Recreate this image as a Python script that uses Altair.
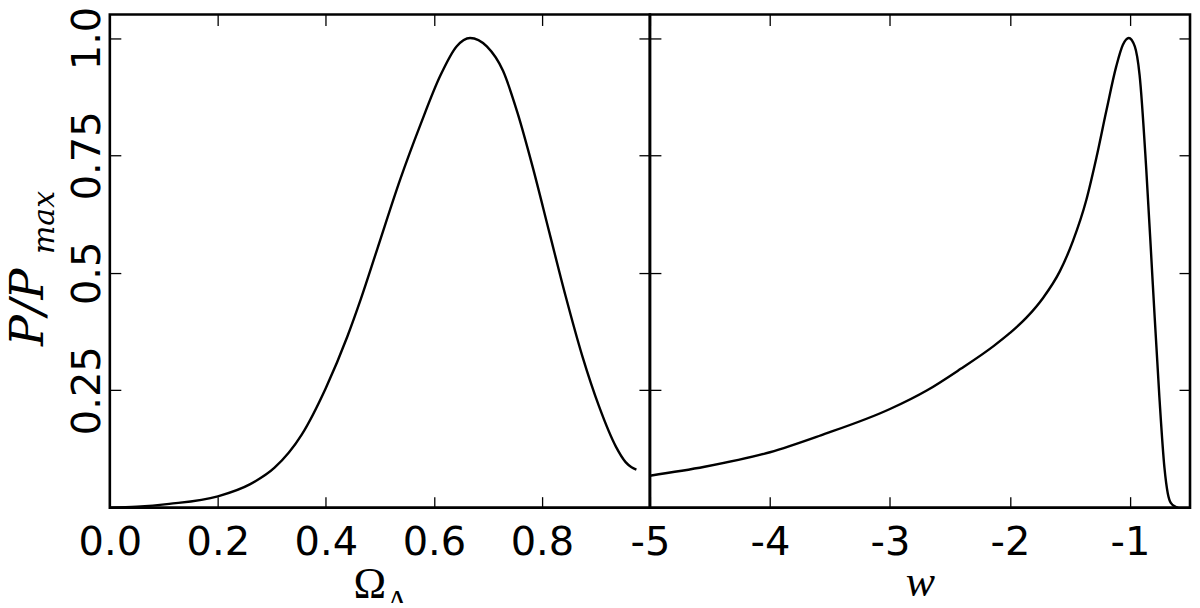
import altair as alt
import pandas as pd

# ---- data ----
omega = [0.0, 0.05, 0.11, 0.2, 0.26, 0.305, 0.355, 0.4, 0.44, 0.465, 0.495, 0.538,
         0.575, 0.612, 0.642, 0.667, 0.698, 0.728, 0.755, 0.783, 0.814, 0.844,
         0.875, 0.906, 0.937, 0.955, 0.966, 0.975]
p_omega = [0.0, 0.002, 0.008, 0.024, 0.05, 0.085, 0.155, 0.255, 0.365, 0.445, 0.55, 0.70,
           0.815, 0.92, 0.982, 1.0, 0.982, 0.93, 0.84, 0.725, 0.585, 0.45,
           0.322, 0.215, 0.13, 0.097, 0.086, 0.081]

w_vals = [-5.0, -4.544, -4.0, -3.576, -3.0, -2.69, -2.414, -2.137, -2.0, -1.861, -1.723,
          -1.585, -1.475, -1.364, -1.28, -1.197, -1.114, -1.06, -1.01, -0.96, -0.92,
          -0.865, -0.81, -0.755, -0.713, -0.685, -0.66, -0.62, -0.6]
p_w = [0.068, 0.087, 0.118, 0.154, 0.21, 0.25, 0.295, 0.344, 0.372, 0.405, 0.447,
       0.503, 0.568, 0.655, 0.745, 0.845, 0.94, 0.985, 1.0, 0.982, 0.921,
       0.723, 0.476, 0.235, 0.085, 0.03, 0.01, 0.002, 0.0]

omega_ticks = [0.0, 0.2, 0.4, 0.6, 0.8]
w_ticks = [-5, -4, -3, -2, -1]
p_ticks = [0.25, 0.5, 0.75, 1.0]

omega_domain = [0.0, 1.0]
w_domain = [-5.0, -0.5]
p_domain = [0.0, 1.05]

W, H = 541, 494
TICK = 11
LABEL_FONT = "DejaVu Sans"
LABEL_SIZE = 40

df_left = pd.DataFrame({"x": omega, "p": p_omega})
df_right = pd.DataFrame({"x": w_vals, "p": p_w})

ylabel_expr = "datum.value == 0.5 ? '0.5' : (datum.value == 1 ? '1.0' : format(datum.value, '.2f'))"
wlabel_expr = "'' + datum.value"


def axis(orient, values, labels=True, **kw):
    base = dict(orient=orient, values=values, title=None, tickSize=TICK, offset=-TICK,
                domain=False, grid=False, tickColor="black", tickWidth=1.3,
                labels=labels, labelFlush=False, labelOverlap=False)
    if labels:
        base.update(labelFont=LABEL_FONT, labelFontSize=LABEL_SIZE, labelColor="black")
    base.update(kw)
    return alt.Axis(**base)


def panel(df, xdom, xticks, xlabel_kw, ylabels):
    xs = alt.Scale(domain=xdom, nice=False, zero=False)
    ys = alt.Scale(domain=p_domain, nice=False, zero=False)
    base = alt.Chart(df)
    if ylabels:
        yax = axis("left", p_ticks, True, labelExpr=ylabel_expr, labelAngle=270,
                   labelAlign="center", labelBaseline="alphabetic", labelPadding=10)
    else:
        yax = axis("left", p_ticks, False)
    line = base.mark_line(color="black", strokeWidth=2.4, interpolate="monotone").encode(
        x=alt.X("x:Q", scale=xs, axis=axis("bottom", xticks, True,
                                            labelPadding=15, labelBaseline="top", **xlabel_kw)),
        y=alt.Y("p:Q", scale=ys, axis=yax),
    )
    ghost = base.mark_line(opacity=0).encode(
        x=alt.X("x:Q", scale=xs, axis=axis("top", xticks, False)),
        y=alt.Y("p:Q", scale=ys, axis=axis("right", p_ticks, False)),
    )
    return line, ghost


def txt(s, x, y, size, font, style="normal", angle=0, align="center"):
    return alt.Chart(pd.DataFrame({"t": [s]})).mark_text(
        font=font, fontSize=size, fontStyle=style, angle=angle, align=align,
        baseline="alphabetic", color="black"
    ).encode(text="t:N", x=alt.value(x), y=alt.value(y))


l_line, l_ghost = panel(df_left, omega_domain, omega_ticks, {"format": ".1f"}, True)
left = alt.layer(
    l_line, l_ghost,
    txt("P/P", -67, 332, 46, "DejaVu Serif", "italic", 270, "left"),
    txt("max", -55.5, 240, 30, "DejaVu Serif", "italic", 270, "left"),
    txt("Ω", 260.5, 584, 44, "Liberation Serif"),
    txt("Λ", 288, 597, 30, "Liberation Serif"),
).resolve_scale(x="independent", y="independent").properties(width=W, height=H)

r_line, r_ghost = panel(df_right, w_domain, w_ticks, {"labelExpr": wlabel_expr}, False)
right = alt.layer(
    r_line, r_ghost,
    txt("w", 271, 582, 44, "Liberation Serif", "italic"),
).resolve_scale(x="independent", y="independent").properties(width=W, height=H)

chart = alt.hconcat(left, right, spacing=0, bounds="flush").configure_view(
    stroke="black", strokeWidth=2.6
).properties(padding={"left": -4, "top": -4, "right": 0, "bottom": -16})

chart.save("out.html", embed_options={"renderer": "svg", "actions": False})
